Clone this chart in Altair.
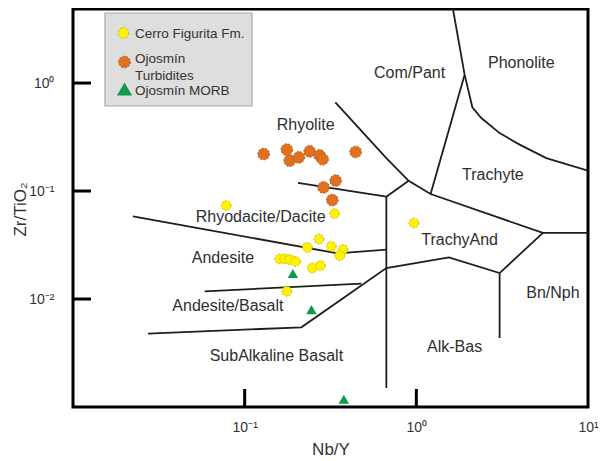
import altair as alt
import pandas as pd

FONT = "Liberation Sans"

# ---------------- data ----------------
# Cerro Figurita Fm. (yellow circles)
cf_x = [0.078, 0.334, 0.271, 0.232, 0.320, 0.374, 0.358, 0.160, 0.171, 0.183, 0.198, 0.248, 0.276, 0.176, 0.968]
cf_y = [0.0732, 0.0618, 0.0359, 0.0301, 0.0308, 0.0287, 0.0252, 0.0235, 0.0235, 0.0232, 0.0223, 0.0194, 0.0204, 0.0118, 0.0505]

# Ojosmín Turbidites (orange circles)
tb_x = [0.129, 0.176, 0.183, 0.207, 0.239, 0.273, 0.285, 0.443, 0.339, 0.288, 0.324]
tb_y = [0.220, 0.242, 0.191, 0.205, 0.233, 0.214, 0.197, 0.230, 0.125, 0.108, 0.0825]

# Ojosmín MORB (green triangles)
mb_x = [0.191, 0.245, 0.378]
mb_y = [0.0172, 0.00797, 0.00118]

# Field boundaries (Winchester & Floyd), polylines
bound_names = ["phonolite", "compant_trachyte", "rhyolite_compant", "short", "rhyodacite_top",
               "vertical", "andesite_top", "andesite_basalt", "basalt_top", "alk_bn"]
bound_x = [
    [1.634, 1.911, 2.120, 2.391, 3.056, 3.997, 5.716, 10.0],
    [1.911, 1.211],
    [0.3375, 0.6688, 0.902, 1.211, 5.461, 10.0],
    [0.902, 0.6688],
    [0.2043, 0.6688],
    [0.6688, 0.6688],
    [0.02236, 0.3479, 0.6688],
    [0.0585, 0.4783],
    [0.02734, 0.2139, 0.6688, 1.548, 3.056, 5.461],
    [3.056, 3.056],
]
bound_y = [
    [4.85, 1.196, 0.596, 0.474, 0.344, 0.269, 0.202, 0.1545],
    [1.196, 0.0938],
    [0.6627, 0.2021, 0.1243, 0.0938, 0.0409, 0.0409],
    [0.1243, 0.0887],
    [0.1191, 0.0887],
    [0.0887, 0.0015],
    [0.0583, 0.02649, 0.02867],
    [0.01179, 0.01389],
    [0.00478, 0.00547, 0.01936, 0.02432, 0.0174, 0.0409],
    [0.0174, 0.004355],
]

# Field names
field_names = ["Com/Pant", "Phonolite", "Rhyolite", "Trachyte", "Rhyodacite/Dacite", "Andesite",
               "TrachyAnd", "Andesite/Basalt", "SubAlkaline Basalt", "Alk-Bas", "Bn/Nph"]
field_x = [0.914, 4.089, 0.2266, 2.793, 0.1239, 0.0747, 1.787, 0.0799, 0.153, 1.671, 6.246]
field_y = [1.238, 1.531, 0.4059, 0.1419, 0.0574, 0.02397, 0.03548, 0.00856, 0.002946, 0.00357, 0.01136]

x_ticks = [0.1, 1, 10]
y_ticks = [0.01, 0.1, 1]

legend_labels = ["Cerro Figurita Fm.", "Ojosmín", "Turbidites", "Ojosmín MORB"]

X_DOMAIN = [0.01, 10]
Y_DOMAIN = [0.001, 4.85]
W, H = 515, 398

# ---------------- tables ----------------
rows = []
for name, xs, ys in zip(bound_names, bound_x, bound_y):
    for i, (xv, yv) in enumerate(zip(xs, ys)):
        rows.append({"seg": name, "ord": i, "x": xv, "y": yv})
bounds_df = pd.DataFrame(rows)
cf_df = pd.DataFrame({"x": cf_x, "y": cf_y})
tb_df = pd.DataFrame({"x": tb_x, "y": tb_y})
mb_df = pd.DataFrame({"x": mb_x, "y": mb_y})
fields_df = pd.DataFrame({"name": field_names, "x": field_x, "y": field_y})
xt_df = pd.DataFrame({"x": x_ticks[:2]})
yt_df = pd.DataFrame({"y": y_ticks})
one = pd.DataFrame({"a": [0]})

xscale = alt.Scale(type="log", domain=X_DOMAIN, nice=False)
yscale = alt.Scale(type="log", domain=Y_DOMAIN, nice=False)

xaxis = alt.Axis(
    values=x_ticks, title="Nb/Y", grid=False, ticks=False, domain=False,
    labelExpr="datum.value < 0.5 ? '10⁻¹' : (datum.value < 5 ? '10⁰' : '10¹')",
    labelPadding=13, labelFontSize=14, labelFont=FONT, labelColor="#333",
    labelFlush=False, labelOverlap=False,
    titleFont=FONT, titleFontSize=17, titleFontWeight="normal", titleColor="#333",
    titleY=42, titleBaseline="middle",
)
yaxis = alt.Axis(
    values=y_ticks, title="Zr/TiO₂", grid=False, ticks=False, domain=False,
    labelExpr="datum.value < 0.05 ? '10⁻²' : (datum.value < 0.5 ? '10⁻¹' : '10⁰')",
    labelPadding=19, labelFontSize=14, labelFont=FONT, labelColor="#333",
    labelFlush=False, labelOverlap=False,
    titleFont=FONT, titleFontSize=17, titleFontWeight="normal", titleColor="#333",
    titleX=-53, titleY=200, titleAngle=-90, titleAlign="center", titleBaseline="middle",
)


def X(field="x"):
    return alt.X(f"{field}:Q", scale=xscale, axis=xaxis)


def Y(field="y"):
    return alt.Y(f"{field}:Q", scale=yscale, axis=yaxis)


lines = alt.Chart(bounds_df).mark_line(color="#1e1e1e", strokeWidth=1.8, clip=True).encode(
    x=X(), y=Y(), detail="seg:N", order="ord:Q"
)

labels = alt.Chart(fields_df).mark_text(font=FONT, fontSize=16, color="#2e2e2e").encode(
    x=X(), y=Y(), text="name:N"
)

xticks = alt.Chart(xt_df).mark_rule(color="black", strokeWidth=3).encode(
    x=X(), y=alt.value(H), y2=alt.value(H - 18)
)
yticks = alt.Chart(yt_df).mark_rule(color="black", strokeWidth=3).encode(
    y=Y(), x=alt.value(0), x2=alt.value(18)
)

yellow = alt.Chart(cf_df).mark_circle(
    size=95, color="#FFF200", opacity=1, stroke="#C9B400", strokeWidth=1, strokeDash=[2, 1.5]
).encode(x=X(), y=Y())

orange = alt.Chart(tb_df).mark_circle(
    size=135, color="#E2711F", opacity=1, stroke="#A9561B", strokeWidth=1, strokeDash=[2, 1.5]
).encode(x=X(), y=Y())

green = alt.Chart(mb_df).mark_point(
    shape="triangle-up", filled=True, size=110, color="#14994A", opacity=1
).encode(x=X(), y=Y())

# ---------------- legend box ----------------
leg_box = alt.Chart(one).mark_rect(fill="#DEDEDE", stroke="#A8A8A8", strokeWidth=1.2).encode(
    x=alt.value(32), x2=alt.value(179), y=alt.value(4), y2=alt.value(97)
)
leg_y = alt.Chart(one).mark_circle(
    size=115, color="#FFF200", opacity=1, stroke="#C9B400", strokeWidth=1, strokeDash=[2, 1.5]
).encode(x=alt.value(50.5), y=alt.value(24))
leg_o = alt.Chart(one).mark_circle(
    size=135, color="#E2711F", opacity=1, stroke="#A9561B", strokeWidth=1, strokeDash=[2, 1.5]
).encode(x=alt.value(51.5), y=alt.value(53))
leg_g = alt.Chart(one).mark_point(
    shape="triangle-up", filled=True, size=230, color="#14994A", opacity=1
).encode(x=alt.value(51.5), y=alt.value(80))

leg_text_layers = []
for lab, ty in zip(legend_labels, [24.5, 50, 66.5, 81.5]):
    leg_text_layers.append(
        alt.Chart(one).mark_text(
            text=lab, font=FONT, fontSize=13.5, color="#333", align="left", baseline="middle"
        ).encode(x=alt.value(62), y=alt.value(ty))
    )

chart = alt.layer(
    lines, labels, xticks, yticks, yellow, orange, green,
    leg_box, leg_y, leg_o, leg_g, *leg_text_layers
).properties(
    width=W, height=H,
    background="white",
    autosize=alt.AutoSizeParams(type="none"),
    padding={"left": 65, "top": 1, "right": 14, "bottom": 53},
).configure_view(
    stroke="black", strokeWidth=3
)

chart.save("out.html", embed_options={"renderer": "svg", "actions": False})
